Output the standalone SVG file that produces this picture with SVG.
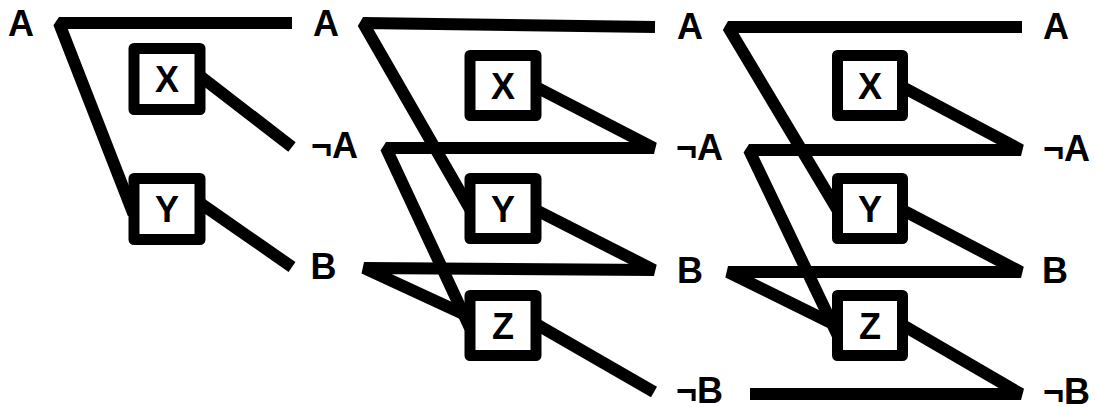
<svg xmlns="http://www.w3.org/2000/svg" width="1095" height="407" viewBox="0 0 1095 407">
<style>
.bg{fill:#fff}
.c{fill:none;stroke:#000;stroke-width:12;stroke-linejoin:bevel;stroke-linecap:butt}
.box{fill:#fff;stroke:#000;stroke-width:11;stroke-linejoin:round}
.t{font-family:"Liberation Sans",Arial,sans-serif;font-weight:bold;font-size:36px;fill:#000}
.m{text-anchor:middle}
</style>
<rect class="bg" x="0" y="0" width="1095" height="407"/>
<g id="connectors">
  <polyline class="c" points="292,23 59,23 133.5,214"/>
  <polyline class="c" points="200,76 292,147"/>
  <polyline class="c" points="200,203 292,267"/>
  <polyline class="c" points="655,27 363,23 470,209"/>
  <polyline class="c" points="536,87 654,148 386,148 470,328"/>
  <polyline class="c" points="536,210 654,270 364,268 470,317"/>
  <polyline class="c" points="536,324 654,392"/>
  <polyline class="c" points="1022,27 728,27 837.5,210"/>
  <polyline class="c" points="902.5,87 1021,150 749,150 837.5,335"/>
  <polyline class="c" points="902.5,210 1021,272 728,272 837.5,326"/>
  <polyline class="c" points="902.5,325 1021,394 750,394"/>
</g>
<g id="labels">
  <text class="t" x="8" y="36">A</text>
  <text class="t" x="313" y="36">A</text>
  <text class="t" x="311" y="158">¬A</text>
  <text class="t" x="310.5" y="279">B</text>
  <text class="t" x="677" y="39">A</text>
  <text class="t" x="676" y="160">¬A</text>
  <text class="t" x="677" y="283">B</text>
  <text class="t" x="676" y="403">¬B</text>
  <text class="t" x="1043" y="39">A</text>
  <text class="t" x="1043" y="161">¬A</text>
  <text class="t" x="1042" y="283">B</text>
  <text class="t" x="1043" y="404">¬B</text>
</g>
<g id="node-x1"><rect class="box" x="134" y="48.5" width="66" height="61"/><text class="t m" x="167" y="92">X</text></g>
<g id="node-y1"><rect class="box" x="134" y="178.5" width="66" height="61"/><text class="t m" x="167" y="222">Y</text></g>
<g id="node-x2"><rect class="box" x="470" y="55.5" width="66" height="60"/><text class="t m" x="503" y="98.5">X</text></g>
<g id="node-y2"><rect class="box" x="470" y="178.5" width="66" height="60"/><text class="t m" x="503" y="221.5">Y</text></g>
<g id="node-z2"><rect class="box" x="470" y="295.5" width="66" height="60"/><text class="t m" x="503" y="338.5">Z</text></g>
<g id="node-x3"><rect class="box" x="837.5" y="55.5" width="65" height="60"/><text class="t m" x="870" y="98.5">X</text></g>
<g id="node-y3"><rect class="box" x="837.5" y="178.5" width="65" height="60"/><text class="t m" x="870" y="221.5">Y</text></g>
<g id="node-z3"><rect class="box" x="837.5" y="295.5" width="65" height="60"/><text class="t m" x="870" y="338.5">Z</text></g>
</svg>
